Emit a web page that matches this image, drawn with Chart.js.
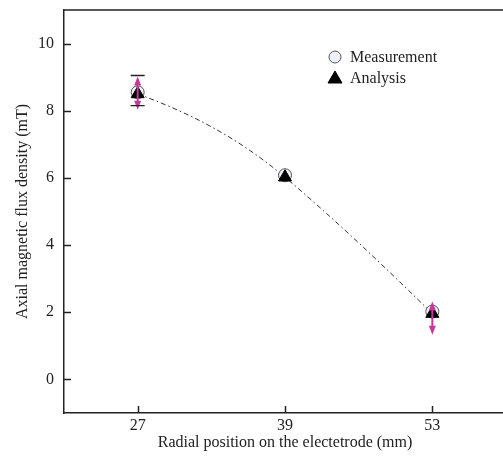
<!DOCTYPE html>
<html>
<head>
<meta charset="utf-8">
<script src="https://cdn.jsdelivr.net/npm/chart.js@4.4.1/dist/chart.umd.min.js"></script>
<style>
  html, body { margin: 0; padding: 0; overflow: hidden; background: #fff; }
  canvas { display: block; width: 506px; height: 466px; }
</style>
</head>
<body>
<canvas id="c" width="506" height="466"></canvas>
<script>
// data
const positions = ['27', '39', '53'];
const measurement = [8.55, 6.08, 2.02];
const analysis = [8.5, 6.02, 1.96];
const errHigh = [9.05, null, 2.35];
const errLow = [8.15, null, 1.45];
const errCaps = [true, false, false];
const yTicks = [0, 2, 4, 6, 8, 10];
// slope of the dash-dot curve at each point (mT per category step)
const fitTangents = [-1.6, -3.7, -4.3];

const serif = "'Liberation Serif', 'Times New Roman', serif";
const ink = '#222';
const magenta = '#c8389c';

function arrowHead(ctx, x, y, dir) {
  ctx.beginPath();
  ctx.moveTo(x, y);
  ctx.lineTo(x - 3.5, y - dir * 9);
  ctx.lineTo(x + 3.5, y - dir * 9);
  ctx.closePath();
  ctx.fill();
}

// bend the fitted curve like the original spline
const curvePlugin = {
  id: 'curve',
  beforeDatasetsDraw(chart) {
    const meta = chart.getDatasetMeta(0);
    meta.dataset.updateControlPoints(chart.chartArea, 'x');
    const xs = chart.scales.x, ys = chart.scales.y;
    const pxPerUnit = ys.getPixelForValue(0) - ys.getPixelForValue(1);
    const pxPerCat = xs.getPixelForValue(1) - xs.getPixelForValue(0);
    const pts = meta.data;
    pts.forEach((p, i) => {
      const m = -fitTangents[i] * pxPerUnit / pxPerCat;
      if (i > 0) {
        const dx = (p.x - pts[i - 1].x) / 3;
        p.cp1x = p.x - dx; p.cp1y = p.y - m * dx;
      }
      if (i < pts.length - 1) {
        const dx = (pts[i + 1].x - p.x) / 3;
        p.cp2x = p.x + dx; p.cp2y = p.y + m * dx;
      }
    });
  }
};

const framePlugin = {
  id: 'frame',
  afterDatasetsDraw(chart) {
    const ctx = chart.ctx;
    const area = chart.chartArea;
    const xs = chart.scales.x, ys = chart.scales.y;
    ctx.save();
    // error bars with arrows
    ctx.strokeStyle = magenta;
    ctx.fillStyle = magenta;
    ctx.lineWidth = 2;
    errHigh.forEach((hi, i) => {
      if (hi === null) return;
      const x = xs.getPixelForValue(i);
      const yHi = ys.getPixelForValue(hi);
      const yLo = ys.getPixelForValue(errLow[i]);
      ctx.beginPath();
      ctx.moveTo(x, yHi + 4);
      ctx.lineTo(x, yLo - 4);
      ctx.stroke();
      arrowHead(ctx, x, yHi + 1, -1);
      arrowHead(ctx, x, yLo + 4, 1);
      if (errCaps[i]) {
        ctx.strokeStyle = ink;
        ctx.lineWidth = 1.3;
        ctx.beginPath();
        ctx.moveTo(x - 7, yHi); ctx.lineTo(x + 7, yHi);
        ctx.moveTo(x - 7, yLo); ctx.lineTo(x + 7, yLo);
        ctx.stroke();
        ctx.strokeStyle = magenta;
        ctx.lineWidth = 2;
      }
    });
    // frame top line and inward tick marks
    ctx.strokeStyle = ink;
    ctx.lineWidth = 1.5;
    ctx.beginPath();
    ctx.moveTo(area.left, area.top);
    ctx.lineTo(area.right + 5, area.top);
    ys.ticks.forEach(t => {
      const y = Math.round(ys.getPixelForValue(t.value)) + 0.5;
      ctx.moveTo(area.left, y);
      ctx.lineTo(area.left + 7, y);
    });
    positions.forEach((p, i) => {
      const x = Math.round(xs.getPixelForValue(i)) + 0.5;
      ctx.moveTo(x, area.bottom);
      ctx.lineTo(x, area.bottom - 7);
    });
    ctx.stroke();
    // legend
    const lx = 335;
    const rows = [
      { y: 57, ds: chart.data.datasets[1] },
      { y: 78, ds: chart.data.datasets[2] }
    ];
    ctx.font = '16px ' + serif;
    ctx.textBaseline = 'middle';
    rows.forEach(r => {
      ctx.fillStyle = r.ds.backgroundColor;
      ctx.strokeStyle = r.ds.borderColor;
      ctx.lineWidth = 1;
      ctx.beginPath();
      if (r.ds.pointStyle === 'circle') {
        ctx.arc(lx, r.y, 6, 0, Math.PI * 2);
      } else {
        ctx.moveTo(lx, r.y - 7);
        ctx.lineTo(lx + 7, r.y + 5);
        ctx.lineTo(lx - 7, r.y + 5);
        ctx.closePath();
      }
      ctx.fill();
      ctx.stroke();
      ctx.fillStyle = ink;
      ctx.fillText(r.ds.label, lx + 15, r.y + 1);
    });
    ctx.restore();
  }
};

new Chart(document.getElementById('c'), {
  type: 'line',
  data: {
    labels: positions,
    datasets: [
      {
        label: 'fit',
        data: analysis,
        borderColor: '#333',
        borderWidth: 1,
        borderDash: [5, 3, 1.5, 3],
        tension: 0.4,
        pointRadius: 0,
        fill: false,
        order: 3
      },
      {
        label: 'Measurement',
        data: measurement,
        showLine: false,
        pointStyle: 'circle',
        pointRadius: 6.5,
        backgroundColor: '#eef0f8',
        borderColor: '#555',
        borderWidth: 1,
        order: 2
      },
      {
        label: 'Analysis',
        data: analysis,
        showLine: false,
        pointStyle: 'triangle',
        pointRadius: 7.5,
        backgroundColor: '#000',
        borderColor: '#000',
        borderWidth: 1,
        order: 1
      }
    ]
  },
  options: {
    responsive: false,
    animation: false,
    devicePixelRatio: 1,
    layout: { autoPadding: false, padding: { top: 10, right: 0, left: 0, bottom: 0 } },
    plugins: { legend: { display: false }, tooltip: { enabled: false } },
    scales: {
      x: {
        type: 'category',
        offset: true,
        grid: { display: false, drawTicks: false },
        border: { display: true, color: ink, width: 1.5 },
        ticks: { color: ink, font: { family: serif, size: 16 }, padding: 3 },
        title: {
          display: true,
          text: 'Radial position on the electetrode (mm)',
          color: ink,
          font: { family: serif, size: 16 },
          padding: { top: 0, bottom: 14 }
        },
        afterFit(s) { s.height = 53; s.paddingLeft = 0; s.paddingRight = 0; }
      },
      y: {
        min: -1,
        max: 11,
        afterBuildTicks(s) { s.ticks = yTicks.map(v => ({ value: v })); },
        grid: { display: false, drawTicks: false },
        border: { display: true, color: ink, width: 1.5 },
        ticks: { color: ink, font: { family: serif, size: 16 }, padding: 10 },
        title: {
          display: true,
          text: 'Axial magnetic flux density (mT)',
          color: ink,
          font: { family: serif, size: 16 },
          padding: { top: 13, bottom: 0 }
        },
        afterFit(s) { s.width = 64; s.paddingTop = 0; s.paddingBottom = 0; }
      }
    }
  },
  plugins: [curvePlugin, framePlugin]
});
</script>
</body>
</html>
